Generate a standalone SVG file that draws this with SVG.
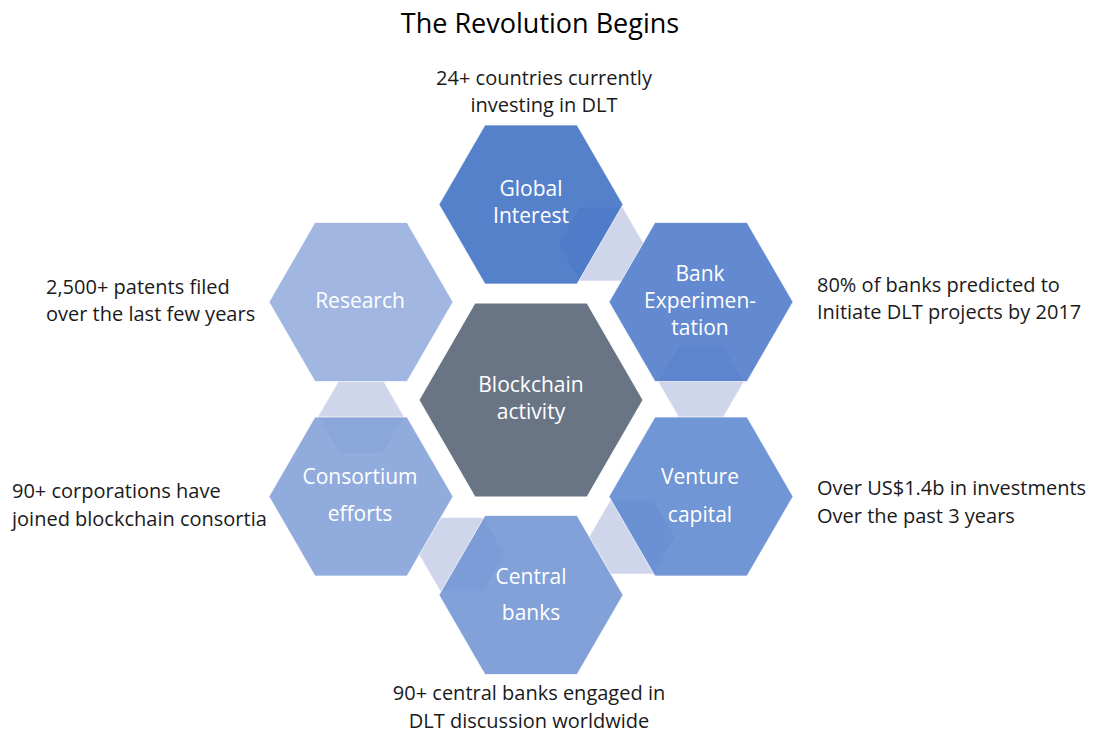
<svg xmlns="http://www.w3.org/2000/svg" width="1094" height="734" viewBox="0 0 1094 734">
  <style>
    .t { font-family: "Open Sans", "Noto Sans", "Liberation Sans", sans-serif; }
    .title { font-size: 27px; fill: #000; text-anchor: middle; }
    .lbl { font-size: 20px; fill: #1a1a1a; }
    .mid { text-anchor: middle; }
    .hx { font-size: 21px; fill: #ffffff; text-anchor: middle; }
    .outer { stroke: #ffffff; stroke-width: 1; stroke-opacity: 0.7; fill-opacity: 0.88; }
    .link { fill: #CFD5EA; stroke: #ffffff; stroke-width: 1; stroke-opacity: 0.6; }
  </style>
  <rect width="1094" height="734" fill="#ffffff"/>

  <text class="t title" x="540" y="33">The Revolution Begins</text>

  <!-- connectors: small linking hexagons -->
  <g id="connectors">
    <polygon class="link" points="558,244 579.5,207 622.5,207 644,244 622.5,281 579.5,281"/>
    <polygon class="link" points="658,381.5 679.5,344.5 722.5,344.5 744,381.5 722.5,418.5 679.5,418.5"/>
    <polygon class="link" points="589,537 610.5,500 653.5,500 675,537 653.5,574 610.5,574"/>
    <polygon class="link" points="419,554.5 440.5,517.5 483.5,517.5 505,554.5 483.5,591.5 440.5,591.5"/>
    <polygon class="link" points="318,416.5 339.5,379.5 382.5,379.5 404,416.5 382.5,453.5 339.5,453.5"/>
  </g>

  <g id="node-global">
    <polygon class="outer" fill="#3D6FC4" points="439,204.5 485,125 577,125 623,204.5 577,284 485,284"/>
    <text class="t hx" x="531" y="196">Global</text>
    <text class="t hx" x="531" y="223">Interest</text>
  </g>
  <g id="node-bank">
    <polygon class="outer" fill="#4D7ACA" points="609,302 655,222.5 747,222.5 793,302 747,381.5 655,381.5"/>
    <text class="t hx" x="700" y="281">Bank</text>
    <text class="t hx" x="700" y="308">Experimen-</text>
    <text class="t hx" x="700" y="335">tation</text>
  </g>
  <g id="node-venture">
    <polygon class="outer" fill="#5C88CF" points="609,496.5 655,417 747,417 793,496.5 747,576 655,576"/>
    <text class="t hx" x="700" y="484">Venture</text>
    <text class="t hx" x="700" y="522">capital</text>
  </g>
  <g id="node-central-banks">
    <polygon class="outer" fill="#7094D3" points="439,595 485,515.5 577,515.5 623,595 577,674.5 485,674.5"/>
    <text class="t hx" x="531" y="584">Central</text>
    <text class="t hx" x="531" y="620">banks</text>
  </g>
  <g id="node-consortium">
    <polygon class="outer" fill="#82A1D7" points="269,496.5 315,417 407,417 453,496.5 407,576 315,576"/>
    <text class="t hx" x="360" y="484">Consortium</text>
    <text class="t hx" x="360" y="521">efforts</text>
  </g>
  <g id="node-research">
    <polygon class="outer" fill="#94ADDD" points="269,302 315,222.5 407,222.5 453,302 407,381.5 315,381.5"/>
    <text class="t hx" x="360" y="308">Research</text>
  </g>
  <g id="node-blockchain">
    <polygon fill="#697585" stroke="#ffffff" stroke-width="1" points="419,400 475,303 587,303 643,400 587,497 475,497"/>
    <text class="t hx" x="531" y="392">Blockchain</text>
    <text class="t hx" x="531" y="419">activity</text>
  </g>

  <g id="note-global">
    <text class="t lbl mid" x="544" y="85">24+ countries currently</text>
    <text class="t lbl mid" x="544" y="112">investing in DLT</text>
  </g>
  <g id="note-bank">
    <text class="t lbl" x="817" y="292">80% of banks predicted to</text>
    <text class="t lbl" x="817" y="319">Initiate DLT projects by 2017</text>
  </g>
  <g id="note-venture">
    <text class="t lbl" x="817" y="495">Over US$1.4b in investments</text>
    <text class="t lbl" x="817" y="523">Over the past 3 years</text>
  </g>
  <g id="note-central-banks">
    <text class="t lbl mid" x="529" y="700">90+ central banks engaged in</text>
    <text class="t lbl mid" x="529" y="728">DLT discussion worldwide</text>
  </g>
  <g id="note-consortium">
    <text class="t lbl" x="12" y="498">90+ corporations have</text>
    <text class="t lbl" x="12" y="526">joined blockchain consortia</text>
  </g>
  <g id="note-research">
    <text class="t lbl" x="46" y="294">2,500+ patents filed</text>
    <text class="t lbl" x="46" y="321">over the last few years</text>
  </g>
</svg>
